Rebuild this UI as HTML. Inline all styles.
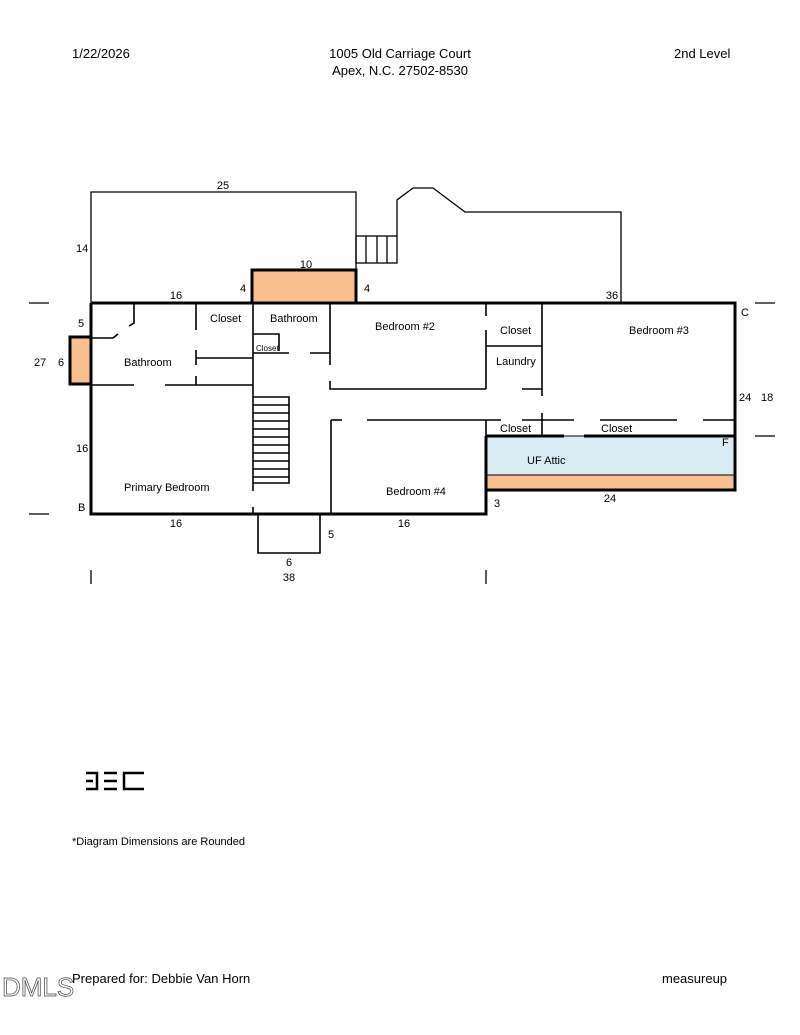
<!DOCTYPE html>
<html><head><meta charset="utf-8"><style>
html,body{margin:0;padding:0;background:#fff;}
svg{display:block;}
text{font-family:"Liberation Sans",Arial,sans-serif;fill:#000;}
</style></head><body>
<svg width="800" height="1035" viewBox="0 0 800 1035" xmlns="http://www.w3.org/2000/svg">
<text x="72" y="58" font-size="13">1/22/2026</text>
<text x="400" y="58" font-size="13" text-anchor="middle">1005 Old Carriage Court</text>
<text x="400" y="75" font-size="13" text-anchor="middle">Apex, N.C. 27502-8530</text>
<text x="674" y="58" font-size="13">2nd Level</text>

<!-- deck outlines -->
<g fill="none" stroke="#000" stroke-width="1.3">
<polyline points="91,303 91,192 356,192 356,270"/>
<rect x="356" y="236" width="41" height="27"/>
<line x1="366" y1="236" x2="366" y2="263"/><line x1="377" y1="236" x2="377" y2="263"/><line x1="387" y1="236" x2="387" y2="263"/>
<polyline points="397,236 397,200 413,188 433,188 465,212 621,212 621,303"/>
</g>

<!-- fills -->
<rect x="252" y="270" width="104" height="33" fill="#f9bf8e" stroke="#000" stroke-width="3"/>
<rect x="70" y="337" width="21" height="47" fill="#f9bf8e" stroke="#000" stroke-width="3"/>
<rect x="486" y="436" width="249" height="39" fill="#d9ecf3"/>
<rect x="486" y="475" width="249" height="15" fill="#f9bf8e"/>
<line x1="486" y1="475" x2="735" y2="475" stroke="#000" stroke-width="1"/>

<!-- thin interior walls -->
<g stroke="#000" stroke-width="1.6" fill="none">
<polyline points="134,303 134,323 129,326"/>
<polyline points="91,338 113,338 118,334"/>
<line x1="196" y1="303" x2="196" y2="330"/><line x1="196" y1="350" x2="196" y2="365"/><line x1="196" y1="376" x2="196" y2="385"/>
<line x1="196" y1="358" x2="253" y2="358"/>
<line x1="91" y1="385" x2="134" y2="385"/><line x1="165" y1="385" x2="253" y2="385"/>
<line x1="253" y1="303" x2="253" y2="491"/><line x1="253" y1="507" x2="253" y2="514"/>
<polyline points="253,334 279,334 279,351"/>
<line x1="253" y1="353" x2="289" y2="353"/><line x1="310" y1="353" x2="330" y2="353"/>
<line x1="330" y1="303" x2="330" y2="365"/>
<polyline points="330,381 330,389 486,389"/><line x1="522" y1="389" x2="542" y2="389"/>
<line x1="331" y1="420" x2="342" y2="420"/><line x1="367" y1="420" x2="501" y2="420"/><line x1="522" y1="420" x2="574" y2="420"/><line x1="600" y1="420" x2="677" y2="420"/><line x1="703" y1="420" x2="735" y2="420"/>
<line x1="331" y1="420" x2="331" y2="514"/>
<line x1="486" y1="303" x2="486" y2="316"/><line x1="486" y1="330" x2="486" y2="389"/>
<line x1="486" y1="346" x2="542" y2="346"/>
<line x1="542" y1="303" x2="542" y2="396"/><line x1="542" y1="413" x2="542" y2="436"/>
<line x1="486" y1="420" x2="486" y2="436"/>
<line x1="564" y1="436" x2="584" y2="436" stroke-width="1"/>
<!-- stairs -->
<polyline points="253,397 289,397 289,483 253,483"/>
<line x1="253" y1="405" x2="289" y2="405"/><line x1="253" y1="413" x2="289" y2="413"/><line x1="253" y1="421" x2="289" y2="421"/><line x1="253" y1="429" x2="289" y2="429"/><line x1="253" y1="437" x2="289" y2="437"/><line x1="253" y1="445" x2="289" y2="445"/><line x1="253" y1="453" x2="289" y2="453"/><line x1="253" y1="461" x2="289" y2="461"/><line x1="253" y1="469" x2="289" y2="469"/><line x1="253" y1="477" x2="289" y2="477"/>
<polyline points="258,514 258,553 320,553 320,514"/>
</g>

<!-- thick exterior -->
<g stroke="#000" stroke-width="3" fill="none">
<polyline points="91,303 735,303 735,490 486,490 486,514 91,514 91,303"/>
<line x1="486" y1="436" x2="564" y2="436"/><line x1="584" y1="436" x2="735" y2="436"/>
<line x1="486" y1="436" x2="486" y2="490"/>
</g>

<!-- ticks -->
<g stroke="#000" stroke-width="1.3">
<line x1="29" y1="303" x2="49" y2="303"/><line x1="755" y1="303" x2="775" y2="303"/>
<line x1="755" y1="436" x2="775" y2="436"/><line x1="29" y1="514" x2="49" y2="514"/>
<line x1="91" y1="570" x2="91" y2="584"/><line x1="486" y1="570" x2="486" y2="584"/>
</g>

<g font-size="11">
<text x="223" y="189" text-anchor="middle">25</text>
<text x="76" y="252">14</text>
<text x="176" y="299" text-anchor="middle">16</text>
<text x="240" y="292">4</text>
<text x="306" y="268" text-anchor="middle">10</text>
<text x="364" y="292">4</text>
<text x="612" y="299" text-anchor="middle">36</text>
<text x="78" y="327">5</text>
<text x="34" y="366">27</text><text x="58" y="366">6</text>
<text x="76" y="452">16</text>
<text x="78" y="511">B</text>
<text x="176" y="527" text-anchor="middle">16</text>
<text x="328" y="538">5</text>
<text x="289" y="566" text-anchor="middle">6</text>
<text x="289" y="581" text-anchor="middle">38</text>
<text x="404" y="527" text-anchor="middle">16</text>
<text x="494" y="507">3</text>
<text x="610" y="502" text-anchor="middle">24</text>
<text x="741" y="316">C</text>
<text x="739" y="401">24</text><text x="761" y="401">18</text>
<text x="722" y="446">F</text>
<text x="210" y="322">Closet</text>
<text x="270" y="322">Bathroom</text>
<text x="256" y="351" font-size="8">Closet</text>
<text x="124" y="366">Bathroom</text>
<text x="375" y="330">Bedroom #2</text>
<text x="500" y="334">Closet</text>
<text x="496" y="365">Laundry</text>
<text x="629" y="334">Bedroom #3</text>
<text x="500" y="432">Closet</text>
<text x="601" y="432">Closet</text>
<text x="527" y="464">UF Attic</text>
<text x="124" y="491">Primary Bedroom</text>
<text x="386" y="495">Bedroom #4</text>
<text x="72" y="845">*Diagram Dimensions are Rounded</text>
</g>

<!-- logo -->
<g stroke="#000" stroke-width="2.5" fill="none">
<polyline points="86,773 97,773 97,789 86,789"/><line x1="86" y1="781" x2="93" y2="781"/>
<line x1="104" y1="773" x2="117" y2="773"/><line x1="104" y1="781" x2="117" y2="781"/><line x1="104" y1="789" x2="117" y2="789"/>
<polyline points="144,773 124,773 124,789 144,789"/>
</g>

<text x="72" y="983" font-size="13">Prepared for: Debbie Van Horn</text>
<text x="662" y="983" font-size="13">measureup</text>
<text x="2" y="996" font-size="26" fill="#fff" stroke="#444" stroke-width="0.7" style="fill:none">DMLS</text>
</svg>
</body></html>
